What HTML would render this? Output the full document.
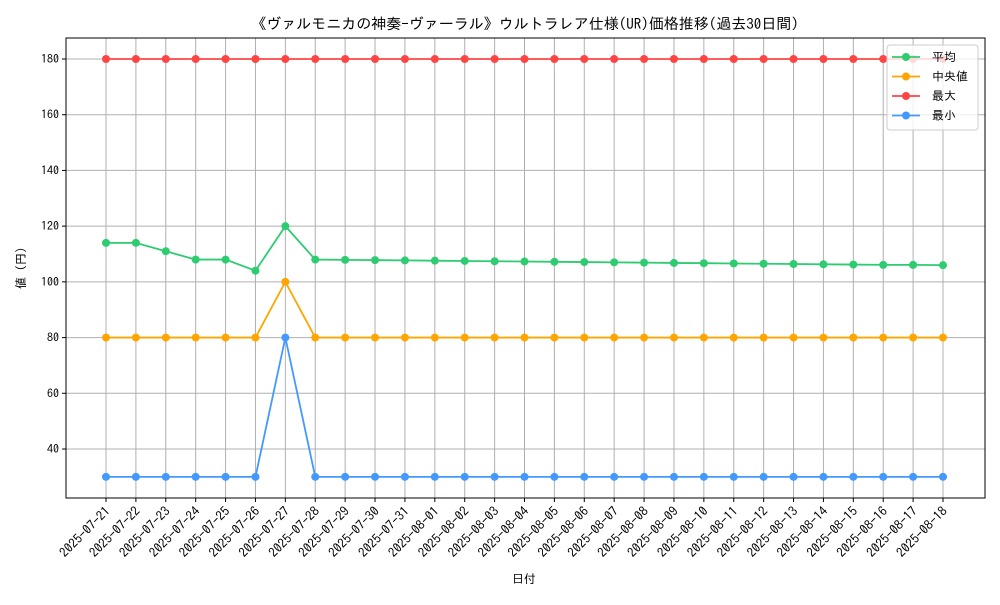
<!DOCTYPE html>
<html><head><meta charset="utf-8"><style>
body{margin:0;background:#fff}
svg{font-family:"IPAGothic","Liberation Sans","Noto Sans CJK JP",sans-serif}
</style></head><body>
<svg id="c" width="1000" height="600">
<text x="525" y="29" font-size="15" text-anchor="middle">《ヴァルモニカの神奏-ヴァーラル》ウルトラレア仕様(UR)価格推移(過去30日間)</text>
<text x="524" y="583" font-size="12" text-anchor="middle">日付</text>
<text transform="translate(25,268) rotate(-90)" font-size="12" text-anchor="middle">値 (円)</text>
<g id="grid"></g><g id="series"></g><g id="axes"></g>
<g>
<rect x="887" y="45" width="91" height="85" rx="3" fill="#fff" fill-opacity="0.8" stroke="#ccc"/>
<g id="leg"></g>
</g>
</svg>
<script>
const dates=["2025-07-21","2025-07-22","2025-07-23","2025-07-24","2025-07-25","2025-07-26","2025-07-27","2025-07-28","2025-07-29","2025-07-30","2025-07-31","2025-08-01","2025-08-02","2025-08-03","2025-08-04","2025-08-05","2025-08-06","2025-08-07","2025-08-08","2025-08-09","2025-08-10","2025-08-11","2025-08-12","2025-08-13","2025-08-14","2025-08-15","2025-08-16","2025-08-17","2025-08-18"];
const avgVals=[114,114,111,108,108,104,120,108,107.9,107.8,107.7,107.6,107.5,107.4,107.3,107.2,107.1,107,106.9,106.8,106.7,106.6,106.5,106.4,106.3,106.2,106.1,106.1,106];
const medVals=[80,80,80,80,80,80,100,80,80,80,80,80,80,80,80,80,80,80,80,80,80,80,80,80,80,80,80,80,80];
const maxVals=[180,180,180,180,180,180,180,180,180,180,180,180,180,180,180,180,180,180,180,180,180,180,180,180,180,180,180,180,180];
const minVals=[30,30,30,30,30,30,80,30,30,30,30,30,30,30,30,30,30,30,30,30,30,30,30,30,30,30,30,30,30];
const yTicks=[40,60,80,100,120,140,160,180];
const names=["平均","中央値","最大","最小"];
const colors=["#2ecc71","#ffa500","#ff4444","#4499ff"];
const L=66,R=985,T=38,B=498;
const n=dates.length;
const x=i=>106+i*(943-106)/(n-1);
const y=v=>59+(180-v)*(390/140);
const NS="http://www.w3.org/2000/svg";
function mk(p,t,a){const e=document.createElementNS(NS,t);for(const k in a)e.setAttribute(k,a[k]);p.appendChild(e);return e;}
const grid=document.getElementById('grid'),axes=document.getElementById('axes'),ser=document.getElementById('series'),leg=document.getElementById('leg');
dates.forEach((d,i)=>{
 const g=mk(grid,'line',{x1:x(i),x2:x(i),y1:T,y2:B,stroke:'#b0b0b0','stroke-width':1});
 
 
 mk(axes,'line',{x1:x(i),x2:x(i),y1:B,y2:B+4,stroke:'#000'});
 const t=mk(axes,'text',{x:0,y:0,'font-size':13,'text-anchor':'end',transform:`translate(${x(i)+5},${B+14}) rotate(-45)`});
 t.textContent=d;
 
 
});
yTicks.forEach(v=>{
 const g=mk(grid,'line',{x1:L,x2:R,y1:y(v),y2:y(v),stroke:'#b0b0b0','stroke-width':1});
 
 
 mk(axes,'line',{x1:L-4,x2:L,y1:y(v),y2:y(v),stroke:'#000'});
 const t=mk(axes,'text',{x:L-7,y:y(v)+4,'font-size':12,'text-anchor':'end'});
 t.textContent=v;
 
 
});
const fr=mk(axes,'rect',{x:L,y:T,width:R-L,height:B-T,fill:'none',stroke:'#000','stroke-width':1});


const series=[avgVals,medVals,maxVals,minVals];
const keys=['average','median','max','min'];
series.forEach((vals,s)=>{
 const g=mk(ser,'g',{});
 
 
 mk(g,'polyline',{points:vals.map((v,i)=>x(i)+','+y(v)).join(' '),fill:'none',stroke:colors[s],'stroke-width':1.8});
 vals.forEach((v,i)=>{
  const c=mk(g,'circle',{cx:x(i),cy:y(v),r:4,fill:colors[s]});
  
  
 });
 const ly=57+s*19.5;
 const le=mk(leg,'g',{});
 
 
 mk(le,'line',{x1:892,x2:920,y1:ly,y2:ly,stroke:colors[s],'stroke-width':1.8});
 mk(le,'circle',{cx:906,cy:ly,r:4,fill:colors[s]});
 const t=mk(le,'text',{x:932,y:ly+4,'font-size':12});
 t.textContent=names[s];
});
</script>
</body></html>
